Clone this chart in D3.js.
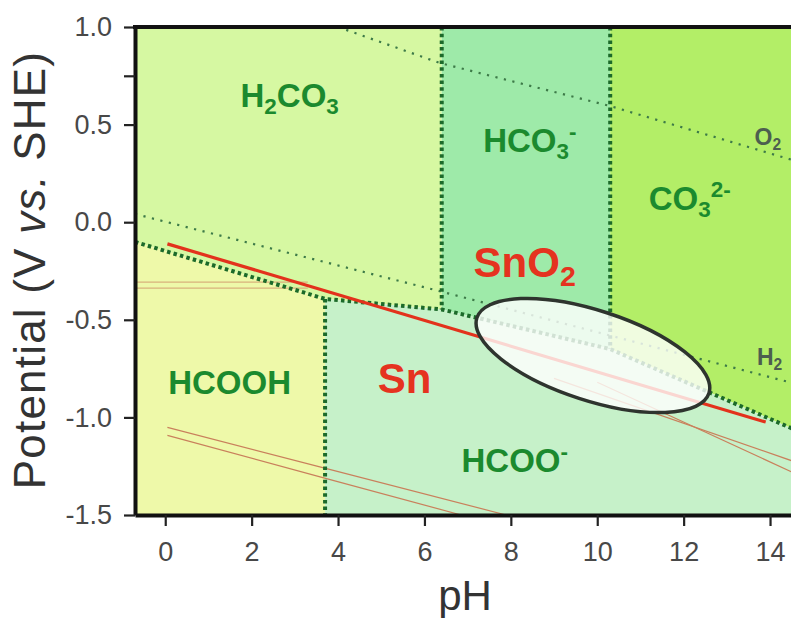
<!DOCTYPE html>
<html>
<head>
<meta charset="utf-8">
<script src="https://cdn.jsdelivr.net/npm/d3@7"></script>
<style>
  body { margin: 0; background: #fff; }
  svg { display: block; font-family: "Liberation Sans", Arial, sans-serif; }
</style>
</head>
<body>
<div id="the_chart"></div>
<script>
// axis ticks
let ph_ticks = [0, 2, 4, 6, 8, 10, 12, 14];
let e_ticks = [-1.5, -1.0, -0.5, 0.0, 0.5, 0.75, 1.0];

// carbon species boundary (thick dotted line), pH / E pairs
let boundary_ph = [-0.7, 3.7, 6.4, 10.3, 14.8];
let boundary_e = [-0.101, -0.393, -0.447, -0.65, -1.085];

// water stability lines
let o2_ph = [4.0, 6.35, 10.3, 14.8];
let o2_e = [1.0, 0.816, 0.595, 0.30];
let h2_ph = [-0.7, 6.4, 14.8];
let h2_e = [0.042, -0.356, -0.84];

// Sn / SnO2 line
let sn_ph = [0.05, 13.9];
let sn_e = [-0.111, -1.024];

// faint thin lines
let thin_lines = [
    {ph: [-0.7, 3.3], e: [-0.307, -0.307]},
    {ph: [-0.7, 3.3], e: [-0.338, -0.338]},
    {ph: [0.05, 3.69, 7.89], e: [-1.051, -1.26, -1.5]},
    {ph: [0.05, 3.69, 6.85], e: [-1.092, -1.311, -1.5]},
    {ph: [9.0, 14.8], e: [-0.80, -1.245]},
    {ph: [10.0, 14.8], e: [-0.82, -1.31]}
];

// regions above / below the boundary
let upper_names = ["H2CO3", "HCO3-", "CO32-"];
let upper_from = [-0.7, 6.4, 10.3];
let upper_to = [6.4, 10.3, 14.8];
let lower_names = ["HCOOH", "HCOO-"];
let lower_from = [-0.7, 3.7];
let lower_to = [3.7, 14.8];

// labels
let label_ph = [2.88, 8.44, 12.14, 1.49, 8.09];
let label_e = [0.652, 0.421, 0.124, -0.819, -1.218];
let sn_label_ph = [8.32, 5.54];
let sn_label_e = [-0.204, -0.798];
let gas_ph = [13.95, 13.99];
let gas_e = [0.436, -0.691];

// highlighted window
let ellipse_ph = 9.9;
let ellipse_e = -0.683;

gen_vis();

function boundaryAt(ph) {
    for (let i = 0; i < boundary_ph.length - 1; i++) {
        if (ph >= boundary_ph[i] && ph <= boundary_ph[i + 1]) {
            let t = (ph - boundary_ph[i]) / (boundary_ph[i + 1] - boundary_ph[i]);
            return boundary_e[i] + t * (boundary_e[i + 1] - boundary_e[i]);
        }
    }
    return boundary_e[boundary_e.length - 1];
}

function boundaryPts(from, to) {
    let pts = [[from, boundaryAt(from)]];
    boundary_ph.forEach(function (p, i) {
        if (p > from && p < to) pts.push([p, boundary_e[i]]);
    });
    pts.push([to, boundaryAt(to)]);
    return pts;
}

function gen_vis() {
    var w = 791, h = 618;
    var xscale = d3.scaleLinear().domain([-0.7, 14.8]).range([135, 804.6]);
    var yscale = d3.scaleLinear().domain([-1.5, 1.0]).range([515, 27]);
    var line = d3.line().x(d => xscale(d[0])).y(d => yscale(d[1]));
    var zip = (a, b) => a.map((v, i) => [v, b[i]]);

    var svg = d3.select("#the_chart").append("svg")
        .attr("width", w).attr("height", h);

    svg.append("defs").append("clipPath").attr("id", "plot")
        .append("rect").attr("x", 135).attr("y", 27)
        .attr("width", 670).attr("height", 488);

    var plot = svg.append("g").attr("clip-path", "url(#plot)");

    var upper_col = ["#d6f8a2", "#9eeaa9", "#b3ee67"];
    var lower_col = ["#eef9a9", "#c6f1c9"];

    upper_names.forEach(function (n, i) {
        var pts = [[upper_from[i], 1.0], [upper_to[i], 1.0]]
            .concat(boundaryPts(upper_from[i], upper_to[i]).reverse());
        plot.append("path").attr("d", line(pts) + "Z").attr("fill", upper_col[i]);
    });
    lower_names.forEach(function (n, i) {
        var pts = [[lower_from[i], -1.5], [lower_to[i], -1.5]]
            .concat(boundaryPts(lower_from[i], lower_to[i]).reverse());
        plot.append("path").attr("d", line(pts) + "Z").attr("fill", lower_col[i]);
    });

    // thin lines
    thin_lines.forEach(function (l, i) {
        plot.append("path").attr("d", line(zip(l.ph, l.e)))
            .attr("fill", "none")
            .attr("stroke", i < 2 ? "#d8b27c" : "#c9805c")
            .attr("stroke-width", 1.2);
    });

    // water lines
    [zip(o2_ph, o2_e), zip(h2_ph, h2_e)].forEach(function (pts) {
        plot.append("path").attr("d", line(pts))
            .attr("fill", "none").attr("stroke", "#3d7a48")
            .attr("stroke-width", 2.2).attr("stroke-dasharray", "2.2,6.5");
    });

    // boundary and dividers
    var dotted = {stroke: "#1c6a2a", width: 4, dash: "3.5,3.2"};
    plot.append("path").attr("d", line(zip(boundary_ph, boundary_e)))
        .attr("fill", "none").attr("stroke", dotted.stroke)
        .attr("stroke-width", dotted.width).attr("stroke-dasharray", dotted.dash);
    lower_from.slice(1).forEach(function (p) {
        plot.append("path").attr("d", line([[p, boundaryAt(p)], [p, -1.5]]))
            .attr("stroke", dotted.stroke).attr("stroke-width", dotted.width)
            .attr("stroke-dasharray", dotted.dash);
    });
    upper_from.slice(1).forEach(function (p) {
        plot.append("path").attr("d", line([[p, 1.0], [p, boundaryAt(p)]]))
            .attr("stroke", dotted.stroke).attr("stroke-width", dotted.width)
            .attr("stroke-dasharray", dotted.dash);
    });

    // Sn line
    plot.append("path").attr("d", line(zip(sn_ph, sn_e)))
        .attr("fill", "none").attr("stroke", "#e3321c").attr("stroke-width", 3.2);

    // ellipse
    plot.append("ellipse")
        .attr("transform", "translate(" + xscale(ellipse_ph) + "," + yscale(ellipse_e) + ") rotate(18)")
        .attr("rx", 122).attr("ry", 45)
        .attr("fill", "#ffffff").attr("fill-opacity", 0.8)
        .attr("stroke", "#2e342e").attr("stroke-width", 3.5);

    // species labels
    var green = "#1b8a2e";
    var labels = svg.append("g").attr("font-weight", "bold").attr("text-anchor", "middle");
    var parts = [
        [["H", 0], ["2", 1], ["CO", 0], ["3", 1]],
        [["HCO", 0], ["3", 1], ["-", 2]],
        [["CO", 0], ["3", 1], ["2-", 2]],
        [["HCOOH", 0]],
        [["HCOO", 0], ["-", 2]]
    ];
    function rich(t, segs, fs) {
        var prev = 0;
        segs.forEach(function (s) {
            var off = s[1] == 1 ? fs * 0.22 : s[1] == 2 ? -fs * 0.38 : 0;
            t.append("tspan").text(s[0])
                .attr("font-size", s[1] == 0 ? fs : fs * 0.68)
                .attr("dy", off - prev);
            prev = off;
        });
    }
    label_ph.forEach(function (p, i) {
        var t = labels.append("text")
            .attr("x", xscale(p)).attr("y", yscale(label_e[i]) + 12)
            .attr("fill", green);
        rich(t, parts[i], 33);
    });
    var snParts = [[["SnO", 0], ["2", 1]], [["Sn", 0]]];
    sn_label_ph.forEach(function (p, i) {
        var t = labels.append("text")
            .attr("x", xscale(p)).attr("y", yscale(sn_label_e[i]) + 15)
            .attr("fill", "#e5331f");
        rich(t, snParts[i], 42);
    });
    var gasParts = [[["O", 0], ["2", 1]], [["H", 0], ["2", 1]]];
    gas_ph.forEach(function (p, i) {
        var t = labels.append("text")
            .attr("x", xscale(p)).attr("y", yscale(gas_e[i]) + 8)
            .attr("fill", "#4d5e4f");
        rich(t, gasParts[i], 23);
    });

    // axes
    var xaxis = d3.axisBottom(xscale).tickValues(ph_ticks)
        .tickSize(11).tickSizeOuter(0).tickPadding(16).tickFormat(d3.format("d"));
    var yaxis = d3.axisLeft(yscale).tickValues(e_ticks)
        .tickSize(11).tickSizeOuter(0).tickPadding(12)
        .tickFormat(d => d == 0.75 ? "" : d3.format(".1f")(d).replace("−", "-"));

    var gx = svg.append("g").attr("transform", "translate(0,515)").call(xaxis);
    var gy = svg.append("g").attr("transform", "translate(135,0)").call(yaxis);
    [gx, gy].forEach(function (g) {
        g.select(".domain").attr("stroke", "#111").attr("stroke-width", 4);
        g.selectAll(".tick line").attr("stroke", "#222").attr("stroke-width", 2.2);
        g.selectAll(".tick text").attr("fill", "#484848")
            .attr("font-family", "Liberation Sans, Arial, sans-serif");
    });
    gx.selectAll(".tick text").attr("font-size", 27);
    gy.selectAll(".tick text").attr("font-size", 27);
    svg.append("line").attr("x1", 133).attr("x2", 805).attr("y1", 27).attr("y2", 27)
        .attr("stroke", "#111").attr("stroke-width", 4);

    svg.append("text").attr("x", 465).attr("y", 610)
        .attr("text-anchor", "middle").attr("font-size", 42).attr("fill", "#333")
        .text("pH");
    var yl = svg.append("text").attr("transform", "translate(45,270) rotate(-90)")
        .attr("text-anchor", "middle").attr("font-size", 44).attr("fill", "#333")
        .attr("letter-spacing", 1.2);
    yl.append("tspan").text("Potential (V ");
    yl.append("tspan").attr("font-style", "italic").text("vs.");
    yl.append("tspan").text(" SHE)");
}
</script>
</body>
</html>
